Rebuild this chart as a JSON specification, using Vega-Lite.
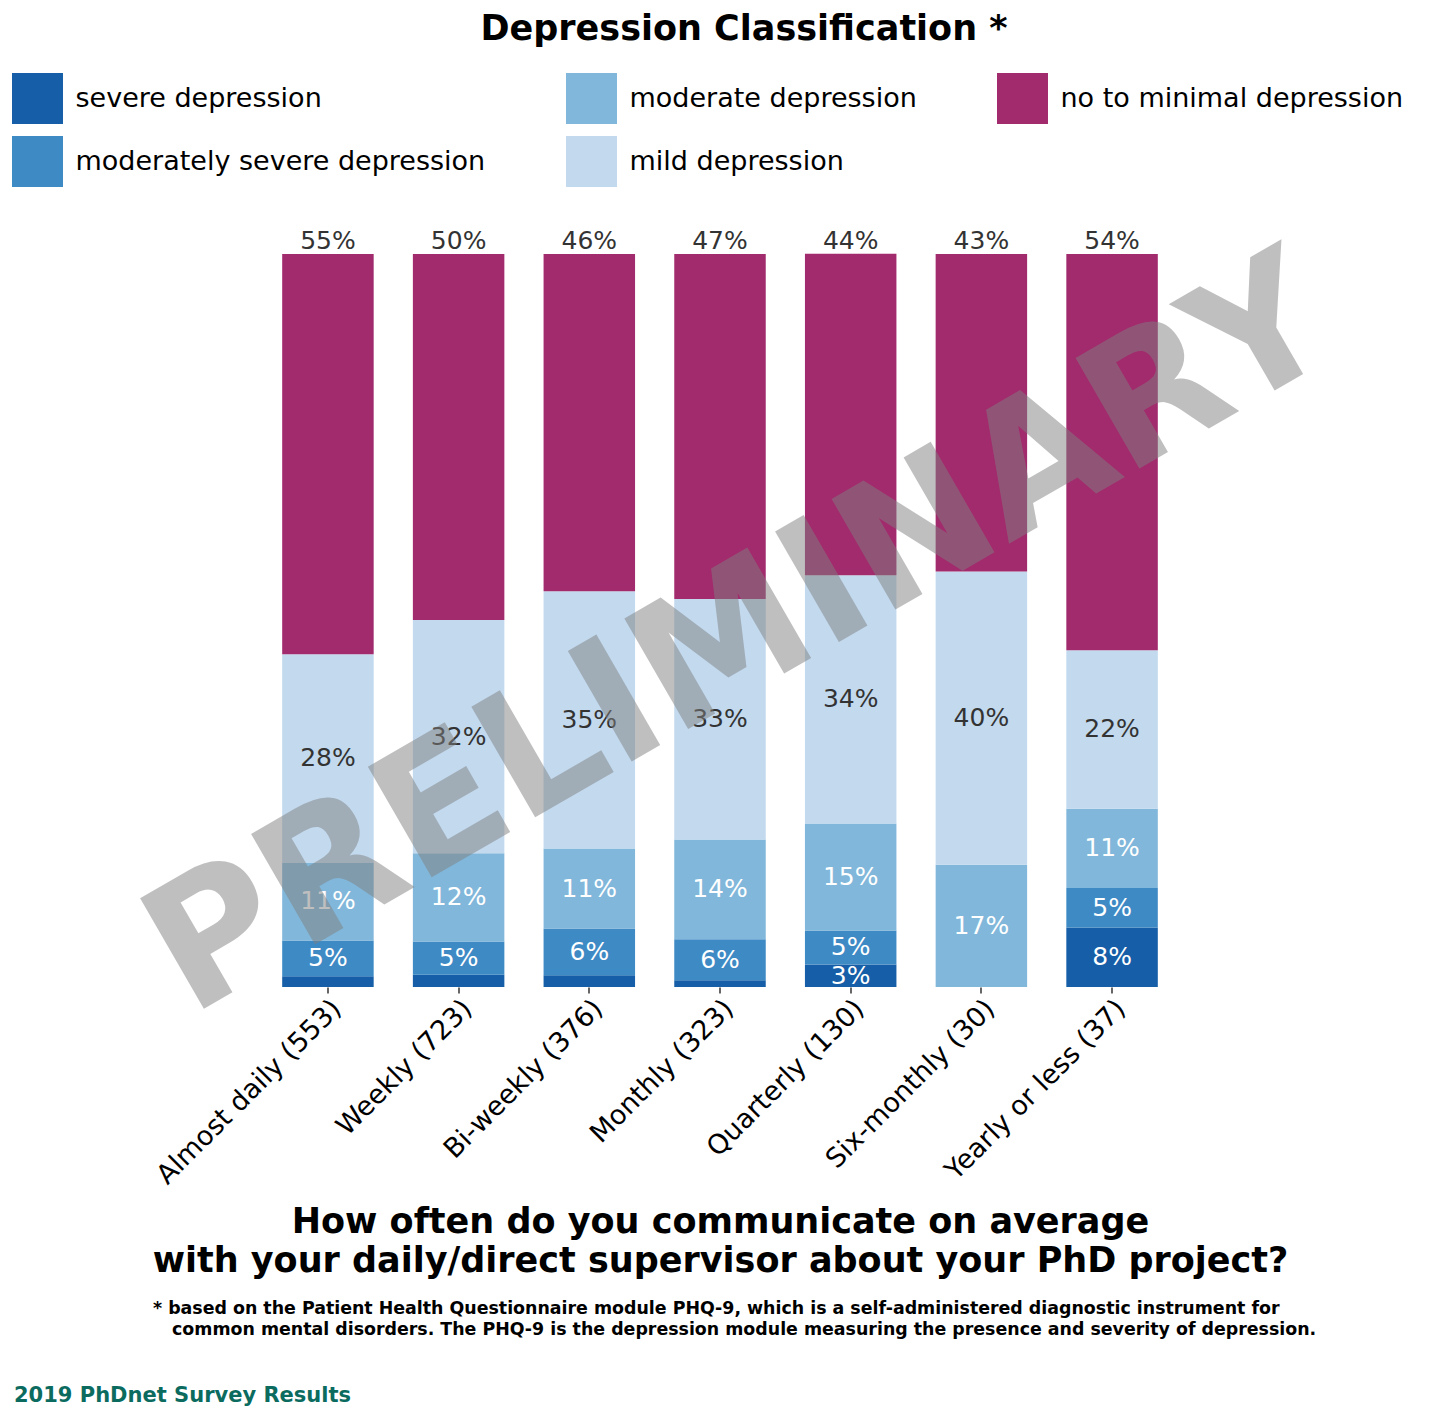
{
  "$schema": "https://vega.github.io/schema/vega-lite/v6.json",
  "background": "white",
  "padding": {"left": 12, "right": 12, "top": 12, "bottom": 12},
  "title": {
    "text": "Depression Classification *",
    "fontSize": 35,
    "fontWeight": "bold",
    "color": "black",
    "anchor": "middle",
    "dx": 24,
    "offset": 26
  },
  "datasets": {
    "shares": [
      {"frequency": "Almost daily (553)", "category": "severe depression", "share": 0.0145},
      {"frequency": "Almost daily (553)", "category": "moderately severe depression", "share": 0.0488},
      {"frequency": "Almost daily (553)", "category": "moderate depression", "share": 0.1067},
      {"frequency": "Almost daily (553)", "category": "mild depression", "share": 0.2839},
      {"frequency": "Almost daily (553)", "category": "no to minimal depression", "share": 0.5461},
      {"frequency": "Weekly (723)", "category": "severe depression", "share": 0.0166},
      {"frequency": "Weekly (723)", "category": "moderately severe depression", "share": 0.0456},
      {"frequency": "Weekly (723)", "category": "moderate depression", "share": 0.1203},
      {"frequency": "Weekly (723)", "category": "mild depression", "share": 0.3181},
      {"frequency": "Weekly (723)", "category": "no to minimal depression", "share": 0.4993},
      {"frequency": "Bi-weekly (376)", "category": "severe depression", "share": 0.0160},
      {"frequency": "Bi-weekly (376)", "category": "moderately severe depression", "share": 0.0638},
      {"frequency": "Bi-weekly (376)", "category": "moderate depression", "share": 0.1090},
      {"frequency": "Bi-weekly (376)", "category": "mild depression", "share": 0.3511},
      {"frequency": "Bi-weekly (376)", "category": "no to minimal depression", "share": 0.4601},
      {"frequency": "Monthly (323)", "category": "severe depression", "share": 0.0093},
      {"frequency": "Monthly (323)", "category": "moderately severe depression", "share": 0.0557},
      {"frequency": "Monthly (323)", "category": "moderate depression", "share": 0.1362},
      {"frequency": "Monthly (323)", "category": "mild depression", "share": 0.3282},
      {"frequency": "Monthly (323)", "category": "no to minimal depression", "share": 0.4706},
      {"frequency": "Quarterly (130)", "category": "severe depression", "share": 0.0308},
      {"frequency": "Quarterly (130)", "category": "moderately severe depression", "share": 0.0462},
      {"frequency": "Quarterly (130)", "category": "moderate depression", "share": 0.1462},
      {"frequency": "Quarterly (130)", "category": "mild depression", "share": 0.3385},
      {"frequency": "Quarterly (130)", "category": "no to minimal depression", "share": 0.4385},
      {"frequency": "Six-monthly (30)", "category": "severe depression", "share": 0},
      {"frequency": "Six-monthly (30)", "category": "moderately severe depression", "share": 0},
      {"frequency": "Six-monthly (30)", "category": "moderate depression", "share": 0.1667},
      {"frequency": "Six-monthly (30)", "category": "mild depression", "share": 0.4000},
      {"frequency": "Six-monthly (30)", "category": "no to minimal depression", "share": 0.4333},
      {"frequency": "Yearly or less (37)", "category": "severe depression", "share": 0.0811},
      {"frequency": "Yearly or less (37)", "category": "moderately severe depression", "share": 0.0541},
      {"frequency": "Yearly or less (37)", "category": "moderate depression", "share": 0.1081},
      {"frequency": "Yearly or less (37)", "category": "mild depression", "share": 0.2162},
      {"frequency": "Yearly or less (37)", "category": "no to minimal depression", "share": 0.5405}
    ],
    "footnote": [
      {"line": 1, "text": "* based on the Patient Health Questionnaire module PHQ-9, which is a self-administered diagnostic instrument for"},
      {"line": 2, "text": "common mental disorders. The PHQ-9 is the depression module measuring the presence and severity of depression."}
    ]
  },
  "bounds": "flush",
  "center": true,
  "spacing": 322,
  "vconcat": [
    {
      "width": 1137,
      "height": 733,
      "data": {"name": "shares"},
      "transform": [
        {
          "calculate": "indexof(['severe depression', 'moderately severe depression', 'moderate depression', 'mild depression', 'no to minimal depression'], datum.category)",
          "as": "rank"
        },
        {
          "stack": "share",
          "groupby": ["frequency"],
          "sort": [{"field": "rank", "order": "ascending"}],
          "as": ["y0", "y1"]
        },
        {"calculate": "(datum.y0 + datum.y1) / 2", "as": "ymid"}
      ],
      "encoding": {
        "x": {
          "field": "frequency",
          "type": "nominal",
          "sort": [
            "Almost daily (553)", "Weekly (723)", "Bi-weekly (376)", "Monthly (323)",
            "Quarterly (130)", "Six-monthly (30)", "Yearly or less (37)"
          ],
          "scale": {"paddingInner": 0.3, "paddingOuter": 1},
          "axis": {
            "title": [
              "How often do you communicate on average",
              "with your daily/direct supervisor about your PhD project?"
            ],
            "titleFontSize": 35,
            "titleFontWeight": "bold",
            "titleColor": "black",
            "titleLineHeight": 39,
            "titlePadding": 17,
            "labelAngle": -45,
            "labelAlign": "right",
            "labelBaseline": "top",
            "labelFontSize": 27,
            "labelColor": "black",
            "labelPadding": 2,
            "labelLimit": 500,
            "domain": false,
            "ticks": true,
            "tickSize": 6,
            "tickColor": "black",
            "tickWidth": 1.2,
            "grid": false
          }
        }
      },
      "layer": [
        {
          "mark": {"type": "bar"},
          "encoding": {
            "y": {
              "field": "y0",
              "type": "quantitative",
              "scale": {"domain": [0, 1]},
              "axis": null
            },
            "y2": {"field": "y1"},
            "color": {
              "field": "category",
              "type": "nominal",
              "scale": {
                "domain": [
                  "severe depression", "moderate depression", "no to minimal depression",
                  "moderately severe depression", "mild depression"
                ],
                "range": ["#165ea7", "#81b7da", "#a22b6d", "#3e8ac5", "#c2d9ee"]
              },
              "legend": {
                "orient": "top",
                "title": null,
                "columns": 3,
                "symbolType": "square",
                "symbolSize": 2600,
                "symbolStrokeWidth": 0,
                "symbolOpacity": 1,
                "labelFontSize": 27,
                "labelColor": "black",
                "labelLimit": 800,
                "labelOffset": 12.5,
                "columnPadding": 80,
                "rowPadding": 12,
                "offset": 41
              }
            }
          }
        },
        {
          "transform": [{"filter": "datum.rank <= 2 && datum.share >= 0.025"}],
          "mark": {"type": "text", "fontSize": 25, "color": "white", "baseline": "middle"},
          "encoding": {
            "y": {"field": "ymid", "type": "quantitative", "axis": null},
            "text": {"field": "share", "type": "quantitative", "format": ".0%"}
          }
        },
        {
          "transform": [{"filter": "datum.rank == 3"}],
          "mark": {"type": "text", "fontSize": 25, "color": "#333333", "baseline": "middle"},
          "encoding": {
            "y": {"field": "ymid", "type": "quantitative", "axis": null},
            "text": {"field": "share", "type": "quantitative", "format": ".0%"}
          }
        },
        {
          "transform": [{"filter": "datum.rank == 4"}],
          "mark": {"type": "text", "fontSize": 25, "color": "#333333", "baseline": "alphabetic", "dy": -5},
          "encoding": {
            "y": {"field": "y1", "type": "quantitative", "axis": null},
            "text": {"field": "share", "type": "quantitative", "format": ".0%"}
          }
        },
        {
          "data": {"values": [{"stamp": "PRELIMINARY"}]},
          "mark": {
            "type": "text",
            "fontSize": 175,
            "fontWeight": "bold",
            "angle": 330,
            "color": "#808080",
            "opacity": 0.5,
            "baseline": "middle",
            "align": "center",
            "dx": 20,
            "dy": 6
          },
          "encoding": {
            "x": {"datum": "Monthly (323)", "type": "nominal"},
            "y": {"datum": 0.47, "type": "quantitative", "axis": null},
            "text": {"field": "stamp"}
          }
        }
      ]
    },
    {
      "width": 1416,
      "height": 21,
      "data": {"name": "footnote"},
      "title": {
        "text": "2019 PhDnet Survey Results",
        "orient": "bottom",
        "anchor": "start",
        "frame": "group",
        "fontSize": 21,
        "fontWeight": "bold",
        "color": "#0b6b5f",
        "offset": 47,
        "dx": 2
      },
      "encoding": {
        "y": {
          "field": "line",
          "type": "ordinal",
          "scale": {"type": "point", "padding": 0},
          "axis": null
        },
        "text": {"field": "text"}
      },
      "layer": [
        {
          "transform": [{"filter": "datum.line == 1"}],
          "mark": {
            "type": "text",
            "align": "left",
            "baseline": "middle",
            "fontSize": 17.4,
            "fontWeight": "bold",
            "color": "black",
            "dx": -567
          }
        },
        {
          "transform": [{"filter": "datum.line == 2"}],
          "mark": {
            "type": "text",
            "align": "left",
            "baseline": "middle",
            "fontSize": 17.4,
            "fontWeight": "bold",
            "color": "black",
            "dx": -548
          }
        }
      ]
    }
  ],
  "config": {
    "font": "DejaVu Sans",
    "view": {"stroke": null}
  }
}
